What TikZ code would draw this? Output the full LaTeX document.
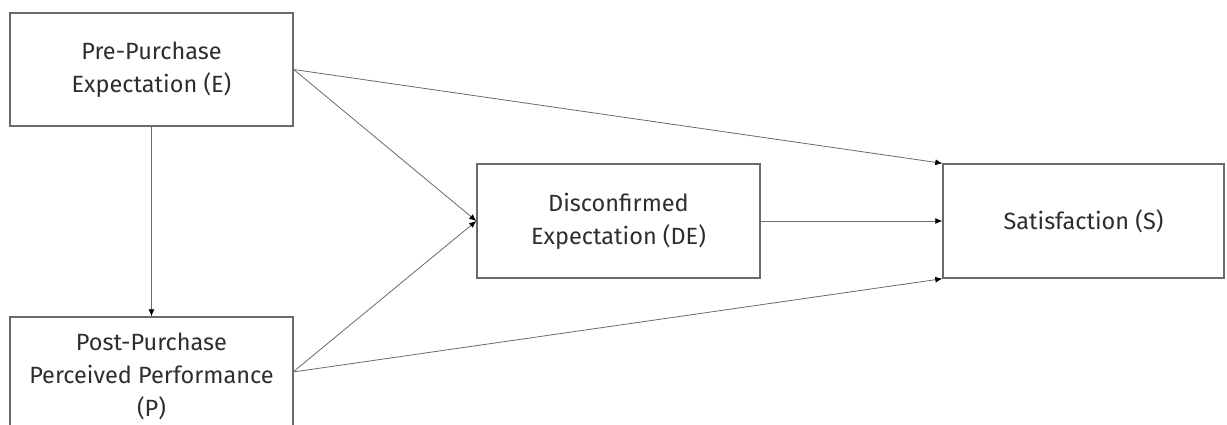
\documentclass[tikz,border=0pt]{standalone}
\usepackage{fontspec}
\setmainfont{Fira Sans}
\usetikzlibrary{arrows.meta}
\definecolor{linegray}{HTML}{6A6A6A}
\definecolor{textgray}{HTML}{2E2E2E}
\begin{document}
\begin{tikzpicture}[x=1pt,y=-1pt,
  box/.style={draw=linegray, line width=1.4pt, fill=white, text=textgray, align=center,
    minimum width=283pt, inner sep=0pt, font=\fontsize{23.5}{33}\selectfont},
  conn/.style={draw=linegray, line width=0.8pt, -{Latex[length=7pt,width=6pt,color=black]}}]
\useasboundingbox (0,0) rectangle (1227,424);
\clip (0,0) rectangle (1227,424);
\node[box, minimum height=113pt] (E) at (151.5,69.5) {Pre-Purchase\\Expectation (E)};
\node[box, minimum height=118pt] (P) at (151.5,376) {Post-Purchase\\Perceived Performance\\(P)};
\node[box, minimum height=114pt] (DE) at (618.5,221) {Disconfirmed\\Expectation (DE)};
\node[box, minimum width=281pt, minimum height=114pt] (S) at (1083.5,221) {Satisfaction (S)};
\coordinate (Pout) at (293,372);
\draw[conn] (E.south) -- (P.north);
\draw[conn] (E.east) -- (DE.west);
\draw[conn] (Pout) -- (DE.west);
\draw[conn] (E.east) -- (S.north west);
\draw[conn] (DE.east) -- (S.west);
\draw[conn] (Pout) -- (S.south west);
\end{tikzpicture}
\end{document}
